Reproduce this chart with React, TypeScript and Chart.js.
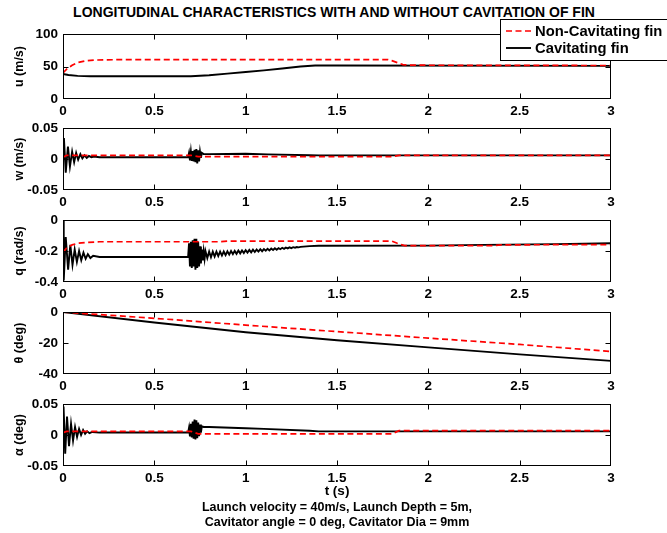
import React, { useEffect, useRef } from "react";
import { Chart, registerables } from "chart.js";
Chart.register(...registerables);

const FONT = '"Liberation Sans", Arial, Helvetica, sans-serif';

// ---- shared time axis ----
const T_TICKS = [0, 0.5, 1, 1.5, 2, 2.5, 3];
const T_TICK_LABELS = ["0", "0.5", "1", "1.5", "2", "2.5", "3"];

// ---- u (m/s) ----
const U_TICKS = [0, 50, 100];
const U_TICK_LABELS = ["0", "50", "100"];
const U_NC_T = [0, 0.02, 0.05, 0.08, 0.12, 0.18, 0.3, 1.78, 1.8, 1.83, 1.86, 1.9, 3];
const U_NC = [40, 46, 52, 56, 58.5, 60, 60.5, 60.5, 59, 56, 53, 52, 51.5];
const U_C_T = [0, 0.03, 0.08, 0.15, 0.7, 0.8, 0.9, 1.0, 1.1, 1.2, 1.3, 1.38, 1.5, 3];
const U_C = [38.5, 37, 35.5, 35, 35, 36.5, 39, 41.5, 44, 47, 50, 51.5, 51.5, 51];

// ---- w (m/s) ----
const W_TICKS = [-0.05, 0, 0.05];
const W_TICK_LABELS = ["-0.05", "0", "0.05"];
const W_NC_T = [0, 0.02, 0.7, 0.74, 1.8, 1.84, 3];
const W_NC = [0.003, 0.006, 0.006, 0.004, 0.004, 0.006, 0.006];
const W_C_T = [0, 0.005, 0.015, 0.027, 0.038, 0.05, 0.061, 0.072, 0.083, 0.095,
  0.106, 0.118, 0.13, 0.142, 0.155, 0.17, 0.2,
  0.685, 0.69, 0.695, 0.7, 0.705, 0.71, 0.715, 0.72, 0.725, 0.73,
  0.735, 0.74, 0.745, 0.75, 0.755, 0.76, 0.77, 0.8, 1.0, 1.12,
  1.35, 1.4, 3];
const W_C = [0, 0.034, -0.022, 0.02, -0.012, 0.012, -0.005, 0.01, -0.001, 0.008,
  0.001, 0.006, 0.002, 0.005, 0.003, 0.004, 0.003,
  0.003, 0.01, -0.002, 0.012, -0.003, 0.013, -0.004, 0.015, -0.005, 0.016,
  -0.007, 0.014, -0.004, 0.012, 0.002, 0.01, 0.008, 0.008, 0.0085, 0.0075,
  0.0062, 0.006, 0.006];

// ---- q (rad/s) ----
const Q_TICKS = [-0.4, -0.2, 0];
const Q_TICK_LABELS = ["-0.4", "-0.2", "0"];
const Q_NC_T = [0, 0.02, 0.05, 0.08, 0.12, 0.2, 0.85, 0.9, 1.8, 1.83, 1.87, 2.35, 2.4, 3];
const Q_NC = [-0.21, -0.18, -0.16, -0.15, -0.145, -0.14, -0.14, -0.136, -0.136, -0.15, -0.165, -0.165, -0.16, -0.158];
const Q_C_T = [0, 0.004, 0.015, 0.028, 0.04, 0.052, 0.064, 0.076, 0.088, 0.1,
  0.112, 0.124, 0.136, 0.15, 0.165, 0.2,
  0.685, 0.69, 0.695, 0.7, 0.705, 0.71, 0.715, 0.72, 0.725, 0.73,
  0.735, 0.74, 0.745, 0.75, 0.755, 0.76, 0.765, 0.77, 0.775,
  0.78, 0.79, 0.8, 0.81, 0.82, 0.83, 0.84, 0.85, 0.86, 0.87,
  0.88, 0.89, 0.9, 0.91, 0.92, 0.93, 0.94, 0.95, 0.96, 0.97,
  0.98, 0.99, 1.0, 1.01, 1.02, 1.03, 1.04, 1.05, 1.06, 1.07,
  1.08, 1.09, 1.1, 1.11, 1.12, 1.13, 1.14, 1.15, 1.16, 1.17,
  1.18, 1.19, 1.2, 1.21, 1.22, 1.23, 1.24, 1.25, 1.26, 1.27,
  1.28, 1.29, 1.3,
  1.35, 1.4, 2.0, 2.3, 2.7, 3];
const Q_C = [0, -0.39, -0.11, -0.32, -0.16, -0.29, -0.19, -0.27, -0.2, -0.26,
  -0.21, -0.25, -0.22, -0.245, -0.23, -0.238,
  -0.238, -0.15, -0.3, -0.14, -0.31, -0.13, -0.3, -0.12, -0.32, -0.12,
  -0.31, -0.14, -0.3, -0.17, -0.28, -0.19, -0.26, -0.2, -0.25,
  -0.2, -0.246, -0.203, -0.24, -0.204, -0.236, -0.204, -0.232, -0.204, -0.229,
  -0.203, -0.226, -0.202, -0.223, -0.2, -0.22, -0.199, -0.218, -0.197, -0.215,
  -0.196, -0.213, -0.194, -0.21, -0.193, -0.208, -0.191, -0.206, -0.19, -0.203,
  -0.188, -0.201, -0.187, -0.198, -0.185, -0.196, -0.184, -0.193, -0.182, -0.191,
  -0.181, -0.188, -0.179, -0.186, -0.178, -0.183, -0.176, -0.181, -0.175, -0.178,
  -0.174, -0.176, -0.173,
  -0.168, -0.166, -0.165, -0.16, -0.155, -0.15];

// ---- theta (deg) ----
const TH_TICKS = [-40, -20, 0];
const TH_TICK_LABELS = ["-40", "-20", "0"];
const TH_T = [0, 0.5, 1, 1.5, 2, 2.5, 3];
const TH_NC = [0, -4, -8.4, -12.6, -16.8, -20.9, -25.5];
const TH_C = [0, -6.7, -13, -18.2, -22.8, -27.3, -31.5];

// ---- alpha (deg) ----
const A_TICKS = [-0.05, 0, 0.05];
const A_TICK_LABELS = ["-0.05", "0", "0.05"];
const A_NC_T = [0, 0.02, 0.7, 0.74, 1.8, 1.84, 3];
const A_NC = [0.004, 0.006, 0.006, 0.002, 0.002, 0.007, 0.007];
const A_C_T = [0, 0.003, 0.012, 0.022, 0.033, 0.044, 0.055, 0.066, 0.077, 0.088,
  0.099, 0.11, 0.121, 0.132, 0.145, 0.16, 0.2,
  0.685, 0.69, 0.695, 0.7, 0.705, 0.71, 0.715, 0.72, 0.725, 0.73,
  0.735, 0.74, 0.745, 0.75, 0.755, 0.76, 0.77, 0.8, 1.0, 1.1,
  1.35, 1.4, 3];
const A_C = [0, 0.046, -0.03, 0.03, -0.018, 0.018, -0.009, 0.013, -0.003, 0.01,
  0.0, 0.008, 0.002, 0.006, 0.003, 0.005, 0.004,
  0.004, 0.012, -0.002, 0.018, -0.004, 0.022, -0.006, 0.025, -0.007, 0.024,
  -0.005, 0.02, -0.002, 0.017, 0.004, 0.014, 0.013, 0.013, 0.011, 0.01,
  0.007, 0.006, 0.006];

const SERIES_NAMES = ["Non-Cavitating fin", "Cavitating fin"];

// ---- layout ----
const PLOT_LEFT = 63;
const PLOT_RIGHT = 611;
const PLOT_H = 65;
const X_AXIS_H = 26;
const PLOT_TOPS = [34, 125, 217, 309, 401];

type PanelCfg = {
  title: string;
  ticks: number[];
  tickLabels: string[];
  ncT: number[];
  nc: number[];
  cT: number[];
  c: number[];
};

const PANELS: PanelCfg[] = [
  { title: "u (m/s)", ticks: U_TICKS, tickLabels: U_TICK_LABELS, ncT: U_NC_T, nc: U_NC, cT: U_C_T, c: U_C },
  { title: "w (m/s)", ticks: W_TICKS, tickLabels: W_TICK_LABELS, ncT: W_NC_T, nc: W_NC, cT: W_C_T, c: W_C },
  { title: "q (rad/s)", ticks: Q_TICKS, tickLabels: Q_TICK_LABELS, ncT: Q_NC_T, nc: Q_NC, cT: Q_C_T, c: Q_C },
  { title: "\u03b8 (deg)", ticks: TH_TICKS, tickLabels: TH_TICK_LABELS, ncT: TH_T, nc: TH_NC, cT: TH_T, c: TH_C },
  { title: "\u03b1 (deg)", ticks: A_TICKS, tickLabels: A_TICK_LABELS, ncT: A_NC_T, nc: A_NC, cT: A_C_T, c: A_C },
];

const boxPlugin = {
  id: "matlabBox",
  afterDraw(chart: any) {
    const { ctx, chartArea: a, scales } = chart;
    ctx.save();
    ctx.strokeStyle = "#000";
    ctx.lineWidth = 1;
    const L = Math.round(a.left) + 0.5;
    const R = Math.round(a.right) - 0.5;
    const T = Math.round(a.top) + 0.5;
    const B = Math.round(a.bottom) - 0.5;
    ctx.strokeRect(L, T, R - L, B - T);
    ctx.beginPath();
    scales.x.ticks.forEach((t: any) => {
      const px = Math.round(scales.x.getPixelForValue(t.value)) + 0.5;
      if (px <= L + 1 || px >= R - 1) return;
      ctx.moveTo(px, B);
      ctx.lineTo(px, B - 5);
      ctx.moveTo(px, T);
      ctx.lineTo(px, T + 5);
    });
    scales.y.ticks.forEach((t: any) => {
      const py = Math.round(scales.y.getPixelForValue(t.value)) + 0.5;
      if (py <= T + 1 || py >= B - 1) return;
      ctx.moveTo(L, py);
      ctx.lineTo(L + 5, py);
      ctx.moveTo(R, py);
      ctx.lineTo(R - 5, py);
    });
    ctx.stroke();
    ctx.restore();
  },
};

const legendPlugin = {
  id: "boxLegend",
  afterDraw(chart: any) {
    const ctx = chart.ctx;
    ctx.save();
    ctx.fillStyle = "#fff";
    ctx.fillRect(500, 19, 170, 42);
    ctx.strokeStyle = "#000";
    ctx.lineWidth = 1;
    ctx.strokeRect(500.5, 19.5, 170, 41);
    chart.data.datasets.forEach((d: any, i: number) => {
      const y = 31 + i * 17;
      ctx.beginPath();
      ctx.strokeStyle = d.borderColor;
      ctx.lineWidth = d.borderWidth;
      ctx.setLineDash(d.borderDash || []);
      ctx.moveTo(506, y);
      ctx.lineTo(531, y);
      ctx.stroke();
      ctx.setLineDash([]);
      ctx.fillStyle = "#000";
      ctx.font = `bold 14.8px ${FONT}`;
      ctx.textBaseline = "middle";
      ctx.textAlign = "left";
      ctx.fillText(d.label, 535, y + 1);
    });
    ctx.restore();
  },
};

function Panel({ cfg, index }: { cfg: PanelCfg; index: number }) {
  const ref = useRef<HTMLCanvasElement>(null);
  const padTop = index === 0 ? PLOT_TOPS[0] : 10;
  const canvasTop = PLOT_TOPS[index] - padTop;
  const canvasH = padTop + PLOT_H + X_AXIS_H;

  useEffect(() => {
    const tickFont = { family: FONT, size: 13.5, weight: "bold" as const };
    const plugins: any[] = [boxPlugin];
    if (index === 0) plugins.push(legendPlugin);
    const chart = new Chart(ref.current!, {
      type: "line",
      data: {
        datasets: [
          {
            label: SERIES_NAMES[0],
            data: cfg.ncT.map((t, i) => ({ x: t, y: cfg.nc[i] })),
            borderColor: "#ff0000",
            borderWidth: 1.7,
            borderDash: [6, 3.5],
            pointRadius: 0,
            fill: false,
            tension: 0,
          },
          {
            label: SERIES_NAMES[1],
            data: cfg.cT.map((t, i) => ({ x: t, y: cfg.c[i] })),
            borderColor: "#000000",
            borderWidth: 1.9,
            pointRadius: 0,
            fill: false,
            tension: 0,
          },
        ],
      },
      options: {
        responsive: false,
        animation: false,
        devicePixelRatio: 1,
        layout: { padding: { top: padTop, left: 0, right: 667 - PLOT_RIGHT, bottom: 0 } },
        plugins: { legend: { display: false }, tooltip: { enabled: false }, title: { display: false } },
        scales: {
          x: {
            type: "linear",
            min: T_TICKS[0],
            max: T_TICKS[T_TICKS.length - 1],
            grid: { display: false, drawTicks: false },
            border: { display: false },
            ticks: {
              font: tickFont,
              color: "#000",
              padding: 4,
              autoSkip: false,
              maxRotation: 0,
              callback: (_v: any, i: number) => T_TICK_LABELS[i],
            },
            afterBuildTicks: (s: any) => {
              s.ticks = T_TICKS.map((v) => ({ value: v }));
            },
            afterFit: (s: any) => {
              s.height = X_AXIS_H;
            },
          },
          y: {
            type: "linear",
            min: cfg.ticks[0],
            max: cfg.ticks[cfg.ticks.length - 1],
            grid: { display: false, drawTicks: false },
            border: { display: false },
            ticks: {
              font: tickFont,
              color: "#000",
              padding: 5,
              autoSkip: false,
              callback: (_v: any, i: number) => cfg.tickLabels[i],
            },
            afterBuildTicks: (s: any) => {
              s.ticks = cfg.ticks.map((v) => ({ value: v }));
            },
            afterFit: (s: any) => {
              s.width = PLOT_LEFT;
            },
            title: {
              display: true,
              text: cfg.title,
              color: "#000",
              font: { family: FONT, size: 12.5, weight: "bold" },
              padding: { top: 12.5, bottom: 0 },
            },
          },
        },
      },
      plugins,
    } as any);
    return () => chart.destroy();
  }, []);

  return (
    <canvas
      ref={ref}
      width={667}
      height={canvasH}
      style={{ position: "absolute", left: 0, top: canvasTop, width: 667, height: canvasH }}
    />
  );
}

export default function App() {
  return (
    <div
      style={{
        position: "absolute",
        left: 0,
        top: 0,
        width: 667,
        height: 533,
        background: "#fff",
        overflow: "hidden",
        fontFamily: FONT,
      }}
    >
      <div
        style={{
          position: "absolute",
          left: 0,
          top: 4,
          width: 668,
          textAlign: "center",
          fontWeight: "bold",
          fontSize: 14,
          lineHeight: "16px",
          whiteSpace: "nowrap",
        }}
      >
        LONGITUDINAL CHARACTERISTICS WITH AND WITHOUT CAVITATION OF FIN
      </div>
      {PANELS.map((p, i) => (
        <Panel key={i} cfg={p} index={i} />
      ))}
      <div
        style={{
          position: "absolute",
          left: 0,
          top: 483,
          width: 674,
          textAlign: "center",
          fontWeight: "bold",
          fontSize: 13.5,
          lineHeight: "16px",
        }}
      >
        t (s)
      </div>
      <div
        style={{
          position: "absolute",
          left: 0,
          top: 500,
          width: 674,
          textAlign: "center",
          fontWeight: "bold",
          fontSize: 12.5,
          lineHeight: "15px",
          whiteSpace: "nowrap",
        }}
      >
        <div>Launch velocity = 40m/s, Launch Depth = 5m,</div>
        <div>Cavitator angle = 0 deg, Cavitator Dia = 9mm</div>
      </div>
    </div>
  );
}
